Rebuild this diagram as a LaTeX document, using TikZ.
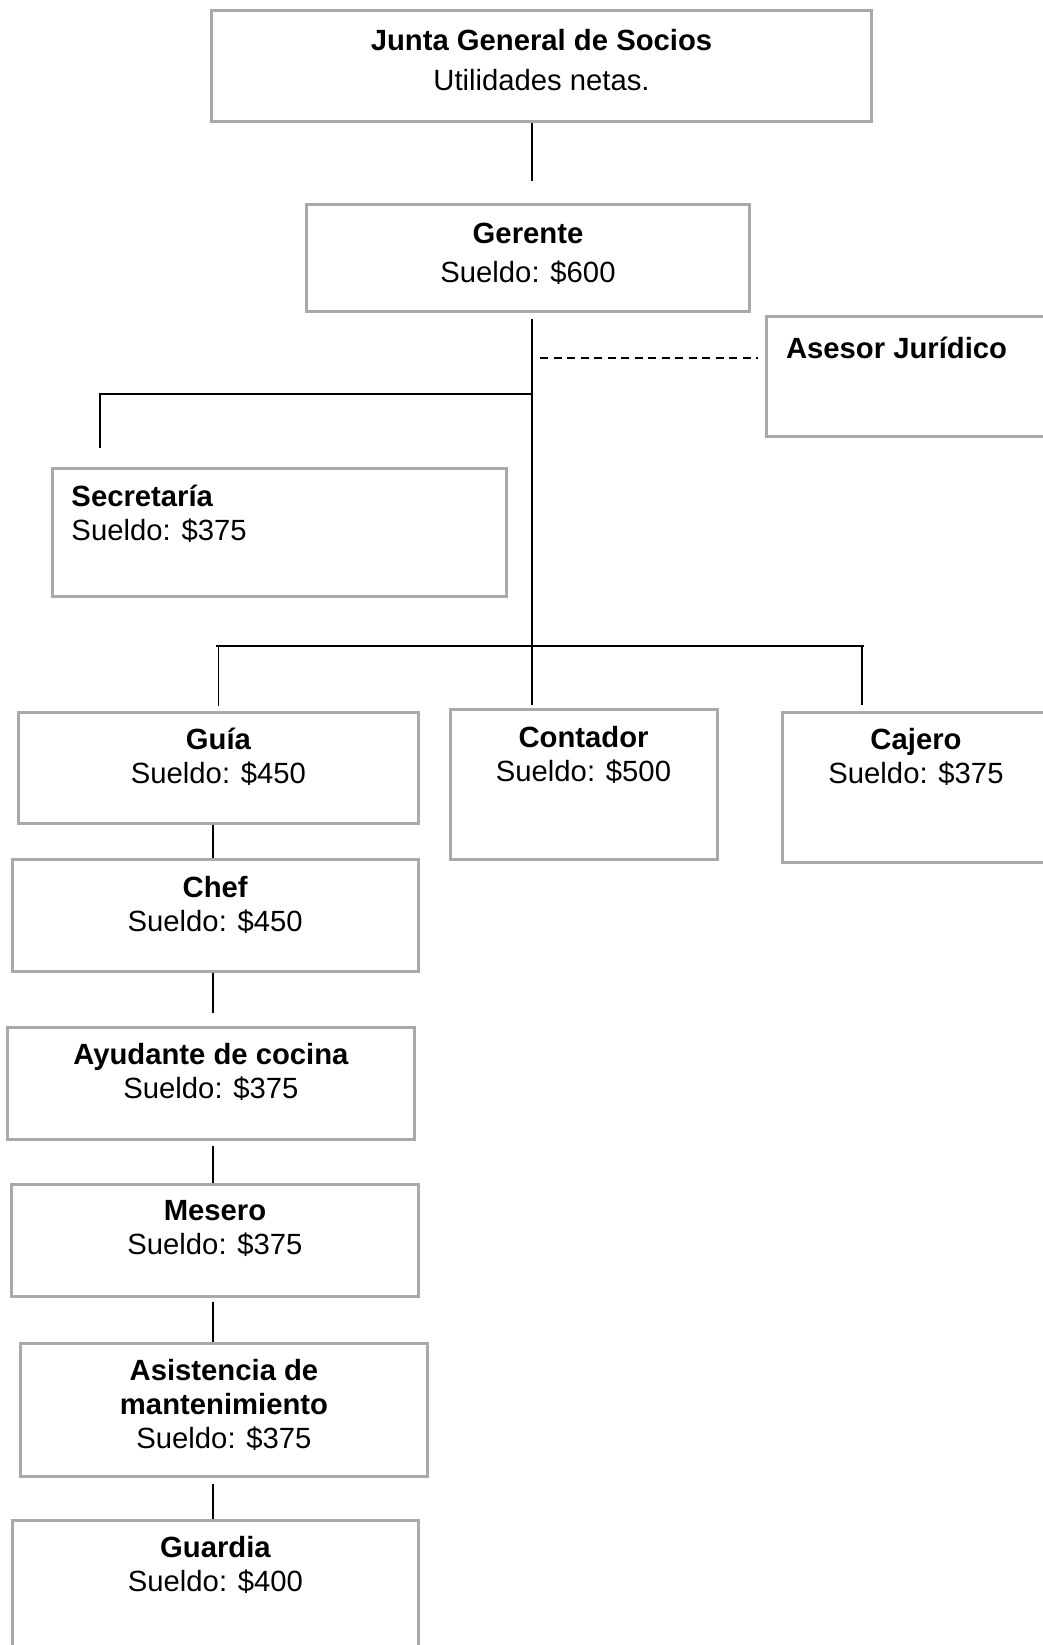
\documentclass[tikz,border=0pt]{standalone}
\usepackage{fontspec}
\setmainfont{Liberation Sans}
\usetikzlibrary{positioning, calc}
\definecolor{boxgray}{HTML}{A9A9A9}

\begin{document}
\begin{tikzpicture}[x=0.4pt, y=0.4pt,
    cargo/.style={rectangle, draw=boxgray, line width=1.2pt, inner sep=0pt},
    txt/.style={anchor=north, yshift=-7pt, align=center, inner sep=0pt, font=\fontsize{11.7}{13.6}\selectfont},
    txtl/.style={txt, anchor=north west, align=left},
    linea/.style={line width=0.7pt},
    barra/.style={line width=1pt}]
\clip (0,0) rectangle (1043,-1645);

% cajas
\node[cargo, minimum width=263.6pt, minimum height=44.4pt] (junta) at (541.5,-66.5) {};
\node[cargo, minimum width=177.2pt, minimum height=42.4pt] (gerente) at (528,-258) {};
\node[cargo, minimum width=120pt, minimum height=47.6pt] (asesor) at (916,-376.5) {};
\node[cargo, minimum width=181.6pt, minimum height=51.2pt] (secre) at (279.5,-532.5) {};
\node[cargo, minimum width=159.6pt, minimum height=44.4pt] (guia) at (218.5,-767.5) {};
\node[cargo, minimum width=106.8pt, minimum height=60pt] (contador) at (583.5,-784.5) {};
\node[cargo, minimum width=106.8pt, minimum height=60pt] (cajero) at (916,-787) {};
\node[cargo, minimum width=162.2pt, minimum height=44.6pt] (chef) at (215.25,-915.25) {};
\node[cargo, minimum width=162.4pt, minimum height=44.8pt] (ayud) at (211,-1083) {};
\node[cargo, minimum width=162.4pt, minimum height=44.8pt] (mesero) at (215,-1240) {};
\node[cargo, minimum width=162.4pt, minimum height=53.2pt] (asist) at (224,-1409.5) {};
\node[cargo, minimum width=162.4pt, minimum height=72pt] (guardia) at (215.5,-1610) {};

% textos
\node[txt, yshift=-0.8pt, font=\fontsize{11.7}{16}\selectfont] (junta-t) at (junta.north) {\textbf{Junta General de Socios}\\Utilidades netas.};
\node[txt, yshift=-0.8pt, font=\fontsize{11.7}{15.6}\selectfont] (gerente-t) at (gerente.north) {\textbf{Gerente}\\Sueldo: \$600};
\node[txtl, yshift=-1.6pt] (asesor-t) at ([xshift=8.4pt]asesor.north west) {\textbf{Asesor Jurídico}};
\node[txtl] (secre-t) at ([xshift=8pt]secre.north west) {\textbf{Secretaría}\\Sueldo: \$375};
\node[txt] (guia-t) at (guia.north) {\textbf{Guía}\\Sueldo: \$450};
\node[txt] (contador-t) at (contador.north) {\textbf{Contador}\\Sueldo: \$500};
\node[txt] (cajero-t) at (cajero.north) {\textbf{Cajero}\\Sueldo: \$375};
\node[txt] (chef-t) at (chef.north) {\textbf{Chef}\\Sueldo: \$450};
\node[txt] (ayud-t) at (ayud.north) {\textbf{Ayudante de cocina}\\Sueldo: \$375};
\node[txt] (mesero-t) at (mesero.north) {\textbf{Mesero}\\Sueldo: \$375};
\node[txt] (asist-t) at (asist.north) {\textbf{Asistencia de}\\\textbf{mantenimiento}\\Sueldo: \$375};
\node[txt] (guardia-t) at (guardia.north) {\textbf{Guardia}\\Sueldo: \$400};

% lineas
\coordinate (hub) at (532,-646);
\coordinate (sec) at (532,-394);
\coordinate (secl) at (100,-394);
\coordinate (dash) at (532,-358);
\coordinate (barl) at (216,-646);
\coordinate (barr) at (864,-646);
\coordinate (eje) at (213,0);

\draw[linea] (junta.south -| hub) -- ([yshift=8.8pt]gerente.north -| hub);
\draw[linea] ([yshift=-2.4pt]gerente.south -| hub) -- (hub);
\draw[linea, dash pattern=on 3.2pt off 2.2pt] ([xshift=3.2pt]dash) -- ([xshift=-2.8pt]asesor.west |- dash);
\draw[linea] (sec) -- (secl) -- ([yshift=7.6pt]secl |- secre.north);
\draw[barra] (barl) -- (barr);
\draw[linea] (guia.north |- barl) -- ([yshift=2pt]guia.north);
\draw[linea] (hub) -- ([yshift=1.2pt]hub |- contador.north);
\draw[linea] ([xshift=-0.8pt]barr) -- ([xshift=-0.8pt,yshift=2.4pt]barr |- cajero.north);
\foreach \a/\b/\s/\e in {guia/chef/0pt/0pt, chef/ayud/0pt/5.2pt, ayud/mesero/2pt/0pt, mesero/asist/1.6pt/0pt, asist/guardia/2.4pt/0pt}
  \draw[linea] ([yshift=-\s]eje |- \a.south) -- ([yshift=\e]eje |- \b.north);
\end{tikzpicture}
\end{document}
